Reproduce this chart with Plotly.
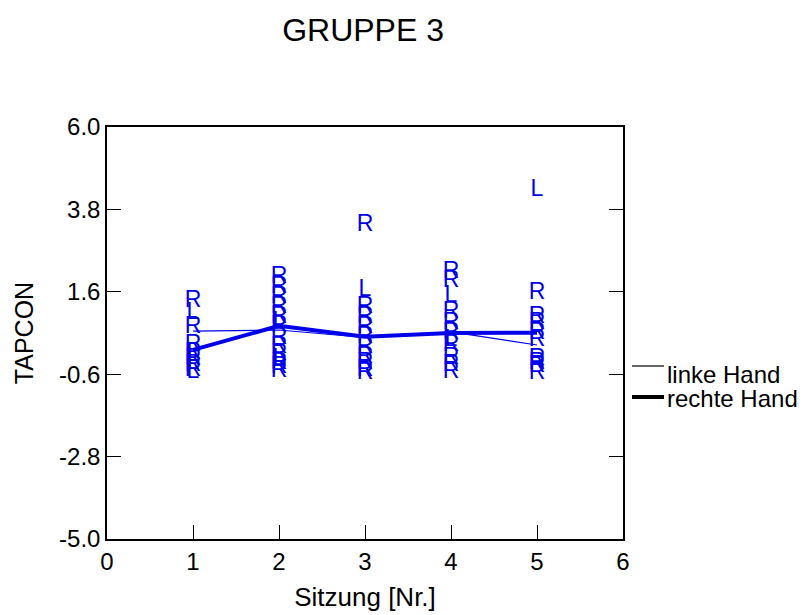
import plotly.graph_objects as go

# --- data -------------------------------------------------------------
sitzungen = [1, 2, 3, 4, 5]
linke_hand = [0.55, 0.58, 0.38, 0.53, 0.18]
rechte_hand = [0.05, 0.69, 0.40, 0.50, 0.51]

# individual values, letter "R" (rechte Hand)
r_sitzung = [1, 1, 1, 1, 1, 1, 1,
             2, 2, 2, 2, 2, 2, 2, 2, 2, 2, 2, 2,
             3, 3, 3, 3, 3, 3, 3, 3, 3, 3,
             4, 4, 4, 4, 4, 4, 4, 4, 4,
             5, 5, 5, 5, 5, 5, 5, 5, 5]
r_werte = [1.36, 0.66, 0.18, -0.03, -0.20, -0.35, -0.50,
           2.00, 1.73, 1.46, 1.19, 0.93, 0.69, 0.37, 0.13, -0.06, -0.30, -0.42, -0.52,
           3.38, 1.19, 0.93, 0.66, 0.39, 0.13, -0.14, -0.30, -0.49, -0.57,
           2.13, 1.89, 1.06, 0.77, 0.50, 0.18, -0.17, -0.36, -0.54,
           1.57, 0.93, 0.77, 0.50, 0.31, -0.19, -0.30, -0.38, -0.57]
# individual values, letter "L" (linke Hand)
l_sitzung = [1, 1, 1, 1, 2, 2, 3, 4, 4, 5]
l_werte = [1.03, -0.10, -0.30, -0.55, 0.80, -0.20, 1.65, 1.49, 0.30, 4.30]

y_ticks = [6.0, 3.8, 1.6, -0.6, -2.8, -5.0]
x_ticks = [0, 1, 2, 3, 4, 5, 6]
legend_namen = ["linke Hand", "rechte Hand"]
legend_breiten = [1.2, 4]

BLUE = "rgb(0,0,235)"
FONT = "Liberation Sans, Arial, Helvetica, sans-serif"

W, H = 805, 615
ML, MR, MT, MB = 107, 182, 127, 76
PW, PH = W - ML - MR, H - MT - MB


def px_x(p):
    return (p - ML) / PW


def px_y(p):
    return (H - MB - p) / PH


fig = go.Figure()

# letters
fig.add_trace(go.Scatter(x=r_sitzung, y=r_werte, mode="text", text=["R"] * len(r_werte),
                         textfont=dict(family=FONT, size=23, color=BLUE),
                         textposition="middle center", showlegend=False, hoverinfo="skip"))
fig.add_trace(go.Scatter(x=l_sitzung, y=l_werte, mode="text", text=["L"] * len(l_werte),
                         textfont=dict(family=FONT, size=23, color=BLUE),
                         textposition="middle center", showlegend=False, hoverinfo="skip"))

# mean lines
fig.add_trace(go.Scatter(x=sitzungen, y=linke_hand, mode="lines", name=legend_namen[0],
                         line=dict(color=BLUE, width=legend_breiten[0]), showlegend=False))
fig.add_trace(go.Scatter(x=sitzungen, y=rechte_hand, mode="lines", name=legend_namen[1],
                         line=dict(color=BLUE, width=legend_breiten[1]), showlegend=False))

# legend drawn as in the reference (black key lines, tight spacing)
shapes = []
annotations = []
for i, (name, bw) in enumerate(zip(legend_namen, legend_breiten)):
    ly = 366 + i * 31
    ty = 374 + i * 25
    shapes.append(dict(type="line", xref="paper", yref="paper",
                       x0=px_x(632), x1=px_x(664), y0=px_y(ly), y1=px_y(ly),
                       line=dict(color="black", width=bw)))
    annotations.append(dict(text=name, xref="paper", yref="paper",
                            x=px_x(665), y=px_y(ty), xanchor="left", yanchor="middle",
                            showarrow=False, font=dict(size=24, family=FONT, color="black")))

fig.update_layout(
    width=W, height=H,
    margin=dict(l=ML, r=MR, t=MT, b=MB, autoexpand=False),
    paper_bgcolor="white", plot_bgcolor="white",
    font=dict(family=FONT, size=24, color="black"),
    title=dict(text="GRUPPE 3", x=0.451, xanchor="center", y=0.952, yanchor="middle",
               font=dict(size=32, family=FONT, color="black")),
    showlegend=False,
    shapes=shapes,
    annotations=annotations,
    xaxis=dict(title=dict(text="Sitzung [Nr.]", standoff=14,
                          font=dict(family=FONT, size=26, color="black"))),
    yaxis=dict(title=dict(text="TAPCON", standoff=18,
                          font=dict(family=FONT, size=25, color="black"))),
)

fig.update_xaxes(range=[0, 6], tickvals=x_ticks, ticktext=[str(v) for v in x_ticks],
                 ticks="inside", ticklen=14, tickcolor="black", tickwidth=1,
                 showline=True, linecolor="black", linewidth=1.5, mirror=True,
                 showgrid=False, zeroline=False, automargin=True,
                 tickfont=dict(family=FONT, size=24, color="black"))
fig.update_yaxes(range=[-5, 6], tickvals=y_ticks, ticktext=[f"{v:.1f}" for v in y_ticks],
                 ticks="inside", ticklen=14, tickcolor="black", tickwidth=1,
                 showline=True, linecolor="black", linewidth=1.5, mirror="ticks",
                 showgrid=False, zeroline=False, automargin=True,
                 tickfont=dict(family=FONT, size=24, color="black"))

fig.write_html("out.html")
